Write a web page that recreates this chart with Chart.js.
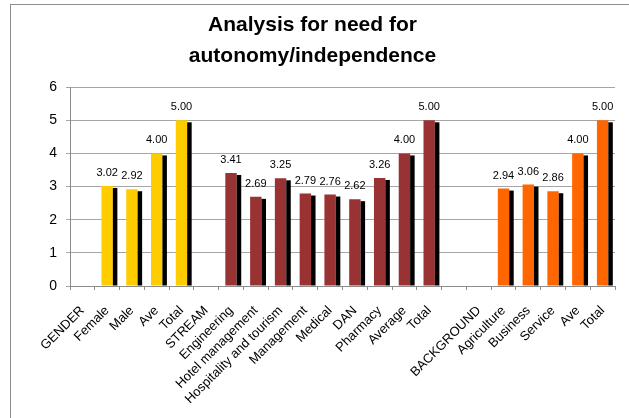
<!DOCTYPE html>
<html>
<head>
<meta charset="utf-8">
<script src="https://cdn.jsdelivr.net/npm/chart.js@4/dist/chart.umd.min.js"></script>
<style>
  html, body { margin: 0; padding: 0; background: #fff; overflow: hidden; }
  #frame { position: absolute; left: 10px; top: 4px; width: 640px; height: 430px; border: 1px solid #8c8c8c; }
  #wrap { position: absolute; left: 0; top: 0; width: 629px; height: 418px; }
</style>
</head>
<body>
<div id="frame"></div>
<div id="wrap"><canvas id="chartCanvas" width="629" height="418"></canvas></div>
<script>
const categories = ["GENDER", "Female", "Male", "Ave", "Total", "STREAM", "Engineering", "Hotel management",
  "Hospitality and tourism", "Management", "Medical", "DAN", "Pharmacy", "Average", "Total", "",
  "BACKGROUND", "Agriculture", "Business", "Service", "Ave", "Total"];

const genderValues = [null, 3.02, 2.92, 4.00, 5.00, null, null, null, null, null, null, null, null, null, null, null, null, null, null, null, null, null];
const streamValues = [null, null, null, null, null, null, 3.41, 2.69, 3.25, 2.79, 2.76, 2.62, 3.26, 4.00, 5.00, null, null, null, null, null, null, null];
const backgroundValues = [null, null, null, null, null, null, null, null, null, null, null, null, null, null, null, null, null, 2.94, 3.06, 2.86, 4.00, 5.00];

const yTicks = [0, 1, 2, 3, 4, 5, 6];

const fontName = '"Liberation Sans", Arial, sans-serif';

// black side block next to every bar + value above it
const barDecor = {
  id: 'barDecor',
  afterDatasetsDraw(chart) {
    const ctx = chart.ctx;
    ctx.save();
    chart.data.datasets.forEach((ds, i) => {
      const meta = chart.getDatasetMeta(i);
      meta.data.forEach((bar, j) => {
        const v = ds.data[j];
        if (v == null) return;
        const p = bar.getProps(['x', 'y', 'base', 'width'], true);
        ctx.fillStyle = '#000';
        ctx.fillRect(p.x + p.width / 2, p.y + 2, 4.5, p.base - p.y - 2);
        ctx.font = '11px ' + fontName;
        ctx.textAlign = 'center';
        ctx.textBaseline = 'alphabetic';
        ctx.fillText(v.toFixed(2), p.x, p.y - 10);
      });
    });
    ctx.restore();
  }
};

const makeSet = (label, values, color) => ({
  label: label,
  data: values,
  backgroundColor: color,
  borderWidth: 0,
  barPercentage: 0.46,
  categoryPercentage: 1,
  grouped: false
});

const ctx = document.getElementById('chartCanvas').getContext('2d');
const chart = new Chart(ctx, {
  type: 'bar',
  data: {
    labels: categories,
    datasets: [
      makeSet('Gender', genderValues, '#FFCC00'),
      makeSet('Stream', streamValues, '#993333'),
      makeSet('Background', backgroundValues, '#FF6600')
    ]
  },
  options: {
    responsive: false,
    animation: false,
    layout: { padding: { left: 10, right: 14, top: 4, bottom: 0 } },
    plugins: {
      legend: { display: false },
      tooltip: { enabled: false },
      title: {
        display: true,
        text: ['Analysis for need for', 'autonomy/independence'],
        color: '#000',
        font: { family: fontName, size: 21, weight: 'bold', lineHeight: 1.48 },
        padding: { top: 6, bottom: 15 }
      }
    },
    scales: {
      x: {
        afterFit: (scale) => { scale.height = 132; },
        grid: { drawOnChartArea: false, drawTicks: true, tickLength: 4, color: '#8c8c8c', offset: true },
        border: { color: '#8c8c8c' },
        ticks: {
          autoSkip: false,
          maxRotation: 45,
          minRotation: 45,
          padding: 13,
          color: '#000',
          font: { family: fontName, size: 13 }
        }
      },
      y: {
        min: 0,
        max: 6,
        afterBuildTicks: (scale) => { scale.ticks = yTicks.map(v => ({ value: v })); },
        afterFit: (scale) => { scale.width = 60; },
        grid: { color: '#a6a6a6', tickLength: 4, drawTicks: true },
        border: { color: '#8c8c8c' },
        ticks: {
          padding: 9,
          color: '#000',
          font: { family: fontName, size: 14 }
        }
      }
    }
  },
  plugins: [barDecor]
});
</script>
</body>
</html>
